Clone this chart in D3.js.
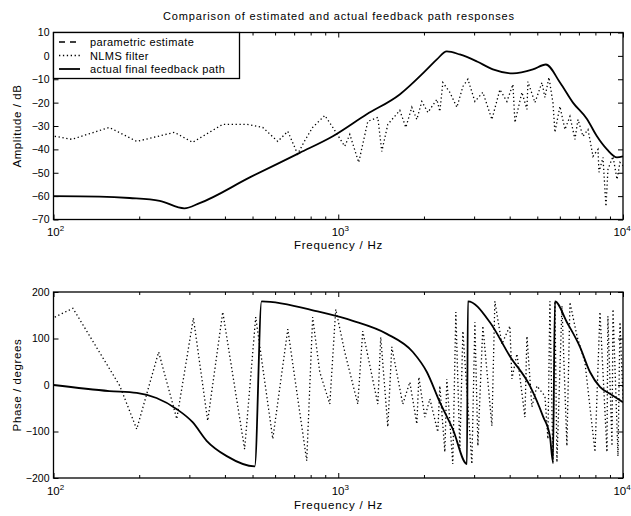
<!DOCTYPE html>
<html>
<head>
<meta charset="utf-8">
<title>Feedback path responses</title>
<script src="https://d3js.org/d3.v7.min.js"></script>
<style>
  body { margin: 0; background: #fff; }
  text { font-family: "Liberation Sans", Arial, Helvetica, sans-serif; fill: #000; }
</style>
</head>
<body>
<svg id="chart" width="631" height="516"></svg>
<script>
// values
var magFreq = [100,145,185,236,288,326,489,732,957,1259,1644,2047,2220,2405,2671,3070,3491,4105,4826,5361,6007,6672,7472,8100,8786,9527,10000];
var magActual = [-60,-60.2,-60.8,-62,-65.2,-63,-52,-41.5,-34.4,-25,-16.5,-5.8,-1.5,1.9,0.6,-2.4,-5.8,-7.5,-5.8,-3.7,-11.4,-20,-27,-34.4,-40,-43.4,-43];

var nlmsMagFreq = [101,116,157,196,266,308,393,477,543,613,665,720,765,813,897,957,1054,1098,1180,1270,1377,1422,1493,1645,1727,1813,1888,1966,2064,2220,2274,2330,2466,2610,2740,2853,3019,3220,3464,3696,3911,4106,4173,4416,4599,4636,4906,5192,5319,5494,5675,5767,6005,6253,6512,6781,6948,7235,7534,7846,8169,8235,8505,8713,8856,9223,9526,9761,10000];
var nlmsMag = [-34.4,-35.7,-30.6,-36.6,-32.7,-37,-29.3,-29.3,-30.6,-36.6,-32.3,-42,-36,-30.6,-25.5,-30.6,-38.7,-33.6,-45.6,-28,-26.3,-40.9,-29.3,-23.3,-30.6,-22,-27.2,-19.5,-24.2,-18.6,-23.8,-11.4,-15.6,-22,-13.1,-10,-19.5,-15.6,-27.2,-14.4,-19.5,-12.2,-28.5,-15.6,-22.9,-11,-20,-11.4,-17.8,-9.2,-20,-32.7,-21.6,-31.5,-25.9,-35.7,-27.2,-34.4,-31.5,-43,-40,-49.8,-43.4,-64.4,-48.5,-43,-52.8,-45.6,-47];

var phaseFreq = [100,157,196,230,271,308,345,406,509,538,861,1125,1481,1828,2047,2274,2525,2831,2853,3408,4006,4711,5233,5538,5675,5767,6353,7060,7656,8300,8998,10000];
var phaseActual = [0,-13,-17,-28,-52,-80,-120,-153,-175,180,157,138,110,71,28,-37,-95,-170,180,135,62,-2,-67,-110,-166,180,135,82,28,-4,-19,-37];

var nlmsPhaseFreq = [101,117,171,196,234,271,310,348,393,469,513,589,665,775,813,861,934,980,1054,1171,1219,1377,1410,1493,1542,1685,1784,1888,1919,2014,2098,2237,2274,2368,2406,2525,2588,2673,2740,2946,3019,3093,3220,3464,3548,3755,4006,4073,4242,4524,4599,4788,4986,5319,5450,5538,5675,5767,5861,6104,6353,6512,6893,7350,7974,8300,8784,8850,9149,9223,9603,9761,10000];
var nlmsPhase = [146,165,-2,-95,71,-73,144,-77,157,-138,146,-116,120,-163,146,28,-41,163,71,-41,116,-41,103,-90,82,-41,6,-84,17,-69,-30,-101,-2,-144,13,-170,157,-138,116,-170,135,-131,127,-88,180,88,127,13,67,-69,105,-47,-2,-24,-116,180,-170,180,-166,170,-131,178,105,49,-144,157,-144,148,-131,163,-153,135,-30];

var magTicks = [10,0,-10,-20,-30,-40,-50,-60,-70];
var phaseTicks = [200,100,0,-100,-200];
var decades = [100,1000,10000];
var minorTicks = [200,300,400,500,600,700,800,900,2000,3000,4000,5000,6000,7000,8000,9000];
var legendLabels = ["parametric estimate", "NLMS filter", "actual final feedback path"];
var legendDash = ["6,5", "1.3,2.6", null];

var svg = d3.select("#chart");

var x = d3.scaleLog().domain([100, 10000]).range([53.5, 623]);
var yMag = d3.scaleLinear().domain([-70, 10]).range([219.5, 32.5]);
var yPhase = d3.scaleLinear().domain([-200, 200]).range([478, 292]);

function pairs(xs, ys) {
  return xs.map(function(f, i) { return [f, ys[i]]; });
}

function drawFrame(y, ticks, id, labelDy) {
  var g = svg.append("g");
  var y0 = y.range()[0], y1 = y.range()[1];

  g.append("clipPath").attr("id", id)
    .append("rect")
    .attr("x", x.range()[0]).attr("y", y1)
    .attr("width", x.range()[1] - x.range()[0]).attr("height", y0 - y1);

  // inward ticks on all four sides, like matlab
  var axes = [
    [d3.axisBottom(x).tickValues(decades).tickSize(-5), "translate(0," + y0 + ")"],
    [d3.axisBottom(x).tickValues(minorTicks).tickSize(-3), "translate(0," + y0 + ")"],
    [d3.axisTop(x).tickValues(decades).tickSize(-5), "translate(0," + y1 + ")"],
    [d3.axisTop(x).tickValues(minorTicks).tickSize(-3), "translate(0," + y1 + ")"],
    [d3.axisRight(y).tickValues(ticks).tickSize(-5), "translate(" + x.range()[1] + ",0)"]
  ];
  axes.forEach(function(a) {
    var ax = g.append("g").attr("transform", a[1]).call(a[0].tickFormat("").tickSizeOuter(0));
    ax.select(".domain").remove();
    ax.selectAll("line").attr("stroke", "#000").attr("stroke-width", 1);
  });

  var left = g.append("g")
    .attr("transform", "translate(" + x.range()[0] + ",0)")
    .call(d3.axisLeft(y).tickValues(ticks).tickSize(-5).tickSizeOuter(0).tickPadding(4));
  left.select(".domain").remove();
  left.selectAll("line").attr("stroke", "#000");
  left.selectAll("text")
    .attr("font-family", "Liberation Sans, Arial, sans-serif")
    .attr("font-size", 10.5)
    .attr("fill", "#000");

  // log decade labels 10^n (last one sits at the right edge of the page)
  decades.forEach(function(d, i) {
    var t = g.append("text")
      .attr("x", i == 2 ? x(d) - 1 : x(d) + 2)
      .attr("y", y0 + labelDy)
      .attr("text-anchor", "middle")
      .attr("font-size", 11.5);
    t.append("tspan").text("10");
    t.append("tspan").attr("dy", -5).attr("font-size", 8).text(i + 2);
  });

  g.append("rect")
    .attr("x", x.range()[0]).attr("y", y1)
    .attr("width", x.range()[1] - x.range()[0]).attr("height", y0 - y1)
    .attr("fill", "none").attr("stroke", "#000").attr("stroke-width", 1.3);

  return g;
}

function drawLine(g, data, y, clip, dash, width, curve) {
  var line = d3.line()
    .x(function(d) { return x(d[0]); })
    .y(function(d) { return y(d[1]); })
    .curve(curve);
  g.append("path")
    .datum(data)
    .attr("clip-path", "url(#" + clip + ")")
    .attr("fill", "none")
    .attr("stroke", "#000")
    .attr("stroke-width", width)
    .attr("stroke-dasharray", dash)
    .attr("d", line);
}

// ---------- amplitude plot ----------
var gMag = drawFrame(yMag, magTicks, "clipMag", 16);
drawLine(gMag, pairs(nlmsMagFreq, nlmsMag), yMag, "clipMag", "1.3,2.6", 1.3, d3.curveLinear);
drawLine(gMag, pairs(magFreq, magActual), yMag, "clipMag", null, 1.8, d3.curveMonotoneX);

// ---------- phase plot ----------
var gPh = drawFrame(yPhase, phaseTicks, "clipPh", 17);
drawLine(gPh, pairs(nlmsPhaseFreq, nlmsPhase), yPhase, "clipPh", "1.3,2.6", 1.3, d3.curveLinear);
drawLine(gPh, pairs(phaseFreq, phaseActual), yPhase, "clipPh", null, 1.8, d3.curveMonotoneX);

// titles and axis labels
svg.append("text")
  .attr("x", 338.5).attr("y", 20)
  .attr("text-anchor", "middle")
  .attr("font-size", 11)
  .attr("textLength", 351).attr("lengthAdjust", "spacing")
  .text("Comparison of estimated and actual feedback path responses");

[[yMag, "Amplitude / dB", 29], [yPhase, "Phase / degrees", 31]].forEach(function(p) {
  var y = p[0];
  var cy = (y.range()[0] + y.range()[1]) / 2;
  svg.append("text")
    .attr("transform", "translate(21," + cy + ") rotate(-90)")
    .attr("text-anchor", "middle")
    .attr("font-size", 11.5)
    .attr("letter-spacing", 0.6)
    .text(p[1]);
  svg.append("text")
    .attr("x", 338.5).attr("y", y.range()[0] + p[2])
    .attr("text-anchor", "middle")
    .attr("font-size", 11.5)
    .attr("letter-spacing", 0.8)
    .text("Frequency / Hz");
});

// ---------- legend ----------
var leg = svg.append("g");
leg.append("rect")
  .attr("x", 53.5).attr("y", 32.5)
  .attr("width", 186).attr("height", 46)
  .attr("fill", "#fff").attr("stroke", "#000").attr("stroke-width", 1.3);
legendLabels.forEach(function(label, i) {
  var ly = 42 + i * 13.5;
  leg.append("line")
    .attr("x1", 59).attr("x2", 80).attr("y1", ly).attr("y2", ly)
    .attr("stroke", "#000")
    .attr("stroke-width", i == 2 ? 1.8 : 1.4)
    .attr("stroke-dasharray", legendDash[i]);
  leg.append("text")
    .attr("x", 90).attr("y", ly + 4)
    .attr("font-size", 11)
    .attr("letter-spacing", 0.4)
    .text(label);
});
</script>
</body>
</html>
